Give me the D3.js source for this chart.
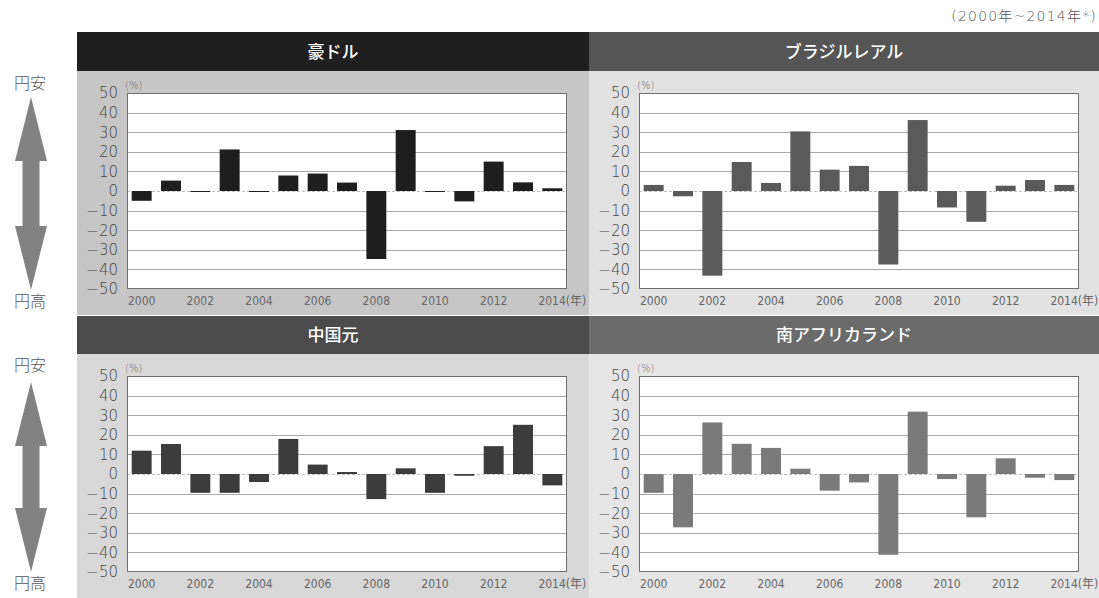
<!DOCTYPE html>
<html>
<head>
<meta charset="utf-8">
<script src="https://cdn.jsdelivr.net/npm/d3@7"></script>
<style>
  html, body { margin: 0; padding: 0; background: #fff; }
  svg { display: block; }
</style>
</head>
<body>
<svg id="chart" width="1099" height="598" font-family="'Noto Sans CJK JP', 'Noto Sans', sans-serif"></svg>
<script>
// Years on the x axis
const years = d3.range(2000, 2015).map(String);

// Yearly change of each currency against the yen (%)
const audValues = [-5, 5.3, -0.5, 21.2, -0.5, 7.9, 8.9, 4.3, -34.7, 31.1, -0.2, -5.3, 15.0, 4.4, 1.4];
const brlValues = [3.1, -2.7, -43.2, 14.8, 4.1, 30.4, 10.9, 12.8, -37.5, 36.2, -8.4, -15.7, 2.7, 5.6, 3.1];
const cnyValues = [11.9, 15.3, -9.6, -9.6, -4.1, 17.9, 4.8, 1.0, -12.8, 2.9, -9.6, -0.9, 14.2, 25.1, -5.8];
const zarValues = [-9.6, -27.2, 26.3, 15.4, 13.3, 2.7, -8.5, -4.3, -41.2, 31.8, -2.6, -22.1, 8.0, -1.9, -3.1];

// Panel titles
const titles = ["豪ドル", "ブラジルレアル", "中国元", "南アフリカランド"];

// Axis labels
const yTicks = [50, 40, 30, 20, 10, 0, -10, -20, -30, -40, -50];
const xTickYears = ["2000", "2002", "2004", "2006", "2008", "2010", "2012", "2014"];
const periodNote = "(2000年~2014年*)";
const weakYen = "円安";
const strongYen = "円高";
const unitLabel = "(%)";
const yearUnit = "(年)";

const svg = d3.select("#chart");

const panels = [
  { title: titles[0], values: audValues, x: 77,  w: 512, y: 32,  hh: 39, h: 283,
    head: "#1f1f1f", bg: "#c6c6c6", bar: "#1e1e1e" },
  { title: titles[1], values: brlValues, x: 589, w: 510, y: 32,  hh: 39, h: 283,
    head: "#555555", bg: "#e2e2e2", bar: "#5a5a5a" },
  { title: titles[2], values: cnyValues, x: 77,  w: 512, y: 316, hh: 38, h: 282,
    head: "#4b4b4b", bg: "#d8d8d8", bar: "#3c3c3c" },
  { title: titles[3], values: zarValues, x: 589, w: 510, y: 316, hh: 38, h: 282,
    head: "#6b6b6b", bg: "#e6e6e6", bar: "#7a7a7a" }
];

const lightDigits = "'DejaVu Sans', 'Noto Sans CJK JP', sans-serif";

// Period note (top right)
svg.append("text")
  .attr("x", 1097).attr("y", 21)
  .attr("text-anchor", "end")
  .attr("font-family", lightDigits)
  .attr("font-size", 14)
  .attr("font-weight", 200)
  .attr("letter-spacing", 1.2)
  .attr("fill", "#555")
  .text(periodNote);

panels.forEach(p => {
  const g = svg.append("g");

  // Background and header band
  g.append("rect").attr("x", p.x).attr("y", p.y).attr("width", p.w).attr("height", p.hh + p.h - p.hh).attr("fill", p.bg);
  g.append("rect").attr("x", p.x).attr("y", p.y).attr("width", p.w).attr("height", p.hh).attr("fill", p.head);
  g.append("text")
    .attr("x", p.x + p.w / 2).attr("y", p.y + p.hh / 2 + 6)
    .attr("text-anchor", "middle")
    .attr("font-size", 17)
    .attr("font-weight", 500)
    .attr("fill", "#fff")
    .text(p.title);

  // Plot area
  const left = p.x + 50, right = left + 440;
  const top = p.y + p.hh + 22, bottom = top + 196;

  const x = d3.scaleBand().domain(years).range([left, right]).paddingInner(0.32).paddingOuter(0.16);
  const y = d3.scaleLinear().domain([-50, 50]).range([bottom, top]);

  g.append("rect")
    .attr("x", left).attr("y", top).attr("width", right - left).attr("height", bottom - top)
    .attr("fill", "#fff");

  // Horizontal grid lines
  g.append("g")
    .selectAll("line")
    .data(yTicks.filter(t => t !== 50 && t !== -50))
    .join("line")
    .attr("x1", left).attr("x2", right)
    .attr("y1", d => Math.round(y(d)) + 0.5).attr("y2", d => Math.round(y(d)) + 0.5)
    .attr("stroke", d => d === 0 ? "#bdbdbd" : "#a8a8a8")
    .attr("stroke-dasharray", d => d === 0 ? "3,2" : null)
    .attr("stroke-width", 1);

  // Bars
  g.append("g")
    .selectAll("rect")
    .data(p.values)
    .join("rect")
    .attr("x", (d, i) => x(years[i]))
    .attr("width", x.bandwidth())
    .attr("y", d => y(Math.max(0, d)))
    .attr("height", d => Math.max(1, Math.abs(y(d) - y(0))))
    .attr("fill", p.bar);

  // Plot border
  g.append("rect")
    .attr("x", left + 0.5).attr("y", top + 0.5).attr("width", right - left - 1).attr("height", bottom - top - 1)
    .attr("fill", "none").attr("stroke", "#6e6e6e").attr("stroke-width", 1);

  // Y axis labels
  const yAxis = d3.axisLeft(y).tickValues(yTicks).tickSize(0).tickPadding(9)
    .tickFormat(d => d < 0 ? "−" + Math.abs(d) : String(d));
  g.append("g")
    .attr("transform", `translate(${left},0)`)
    .call(yAxis)
    .call(a => a.attr("font-family", lightDigits).attr("font-size", 15).attr("font-weight", 200))
    .call(a => a.select(".domain").remove())
    .call(a => a.selectAll("text").attr("fill", "#444"));

  // X axis labels
  const xAxis = d3.axisBottom(x).tickValues(xTickYears).tickSize(0).tickPadding(7)
    .tickFormat(d => d === "2014" ? d + yearUnit : d);
  g.append("g")
    .attr("transform", `translate(0,${bottom})`)
    .call(xAxis)
    .call(a => a.attr("font-family", "'Liberation Sans Narrow', 'DejaVu Sans Condensed', 'Noto Sans CJK JP', sans-serif")
      .attr("font-size", 12))
    .call(a => a.select(".domain").remove())
    .call(a => a.selectAll("text")
      .attr("fill", "#666")
      .attr("dx", d => d === "2014" ? 10 : 0));

  // Unit label
  g.append("text")
    .attr("x", left - 2).attr("y", top - 4)
    .attr("font-family", lightDigits)
    .attr("font-size", 10)
    .attr("font-weight", 200)
    .attr("fill", "#666")
    .text(unitLabel);
});

// Double-headed arrows on the left: weak yen up, strong yen down
function drawArrow(yTop, yBottom, headH) {
  const cx = 31, hw = 16, sw = 8.5;
  const path = d3.path();
  path.moveTo(cx, yTop);
  path.lineTo(cx + hw, yTop + headH);
  path.lineTo(cx + sw, yTop + headH);
  path.lineTo(cx + sw, yBottom - headH);
  path.lineTo(cx + hw, yBottom - headH);
  path.lineTo(cx, yBottom);
  path.lineTo(cx - hw, yBottom - headH);
  path.lineTo(cx - sw, yBottom - headH);
  path.lineTo(cx - sw, yTop + headH);
  path.lineTo(cx - hw, yTop + headH);
  path.closePath();
  svg.append("path").attr("d", path.toString()).attr("fill", "#828282");
}

function drawSide(labelTopY, arrowTop, arrowBottom, labelBottomY) {
  svg.append("text").attr("x", 30).attr("y", labelTopY).attr("text-anchor", "middle")
    .attr("font-size", 16).attr("font-weight", 300).attr("fill", "#555").text(weakYen);
  drawArrow(arrowTop, arrowBottom, 64);
  svg.append("text").attr("x", 30).attr("y", labelBottomY).attr("text-anchor", "middle")
    .attr("font-size", 16).attr("font-weight", 300).attr("fill", "#555").text(strongYen);
}

drawSide(89, 97, 290, 307);
drawSide(371, 382, 572, 589);
</script>
</body>
</html>
